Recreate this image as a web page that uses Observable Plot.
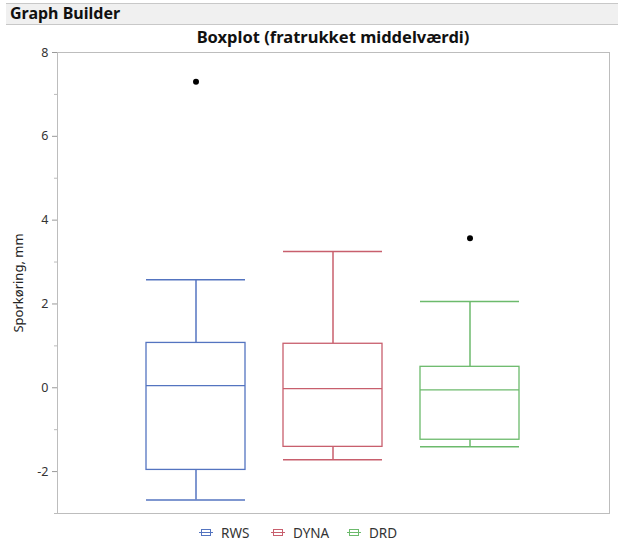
<!DOCTYPE html>
<html>
<head>
<meta charset="utf-8">
<script src="https://cdn.jsdelivr.net/npm/d3@7"></script>
<script src="https://cdn.jsdelivr.net/npm/@observablehq/plot@0.6"></script>
<style>
  html, body { margin: 0; padding: 0; background: #fff; }
  body { width: 618px; height: 545px; position: relative; overflow: hidden; font-family: "Noto Sans", "Open Sans", sans-serif; }
  #header { position: absolute; top: 3px; left: 6px; width: 612px; height: 20px; background: #f0f0f0;
            border-top: 1px solid #c8c8c8; border-bottom: 1px solid #c8c8c8; box-sizing: content-box; }
  #header span { position: absolute; left: 4px; top: -2px; font-weight: bold; font-size: 16px; color: #111; }
  #title { position: absolute; top: 27px; left: 57px; width: 552px; text-align: center; font-weight: bold; font-size: 16.5px; color: #111; line-height: 20px; }
  #plot { position: absolute; top: 40px; left: 0; }
  #legend { position: absolute; top: 524px; left: 0; width: 618px; font-size: 13.5px; color: #333; }
  .item { position: absolute; top: 0; display: flex; align-items: center; height: 18px; }
  .item svg { margin-right: 8px; }
</style>
</head>
<body>
<div id="header"><span>Graph Builder</span></div>
<div id="title">Boxplot (fratrukket middelværdi)</div>
<div id="plot"></div>
<div id="legend"></div>
<script>
// ---- data ----
const categories = ["RWS", "DYNA", "DRD"];
const whiskerLow  = [-2.68, -1.72, -1.41];
const quartile1   = [-1.96, -1.41, -1.24];
const median      = [ 0.05, -0.02, -0.05];
const quartile3   = [ 1.07,  1.05,  0.50];
const whiskerHigh = [ 2.58,  3.25,  2.06];
const outlierCategory = ["RWS", "DRD"];
const outlierValue    = [ 7.30,  3.57];
const yTicks = [-2, 0, 2, 4, 6, 8];
const yMinorTicks = [-3, -1, 1, 3, 5, 7];

// ---- styles ----
const colors = ["#5474c0", "#c85f6d", "#6cba6c"];

const stats = categories.map((c, i) => ({
  cat: c, lo: whiskerLow[i], q1: quartile1[i], med: median[i], q3: quartile3[i], hi: whiskerHigh[i]
}));
const outliers = outlierCategory.map((c, i) => ({cat: c, v: outlierValue[i]}));

const colorScale = {domain: categories, range: colors};

const chart = Plot.plot({
  width: 618,
  height: 485,
  marginLeft: 57,
  marginRight: 9,
  marginTop: 12,
  marginBottom: 12,
  style: {fontFamily: "'Noto Sans', sans-serif", fontSize: "12.5px", color: "#333", background: "transparent"},
  x: {domain: categories, paddingInner: 0.275, paddingOuter: 0.645, axis: null},
  y: {domain: [-3, 8], ticks: yTicks, label: null},
  color: colorScale,
  marks: [
    Plot.frame({stroke: "#bdbdbd"}),
    Plot.axisY({ticks: yTicks, tickSize: 5, tickPadding: 4, stroke: "#999", fill: "#333", label: null, tickFormat: d => String(d)}),
    Plot.axisY({ticks: yMinorTicks, tickSize: 3, stroke: "#bbb", tickFormat: () => "", label: null}),
    Plot.text(["Sporkøring, mm"], {frameAnchor: "left", textAnchor: "middle", dx: -39, rotate: -90, fontSize: 13, fill: "#222"}),
    Plot.ruleX(stats, {x: "cat", y1: "q3", y2: "hi", stroke: "cat", strokeWidth: 1.5}),
    Plot.ruleX(stats, {x: "cat", y1: "lo", y2: "q1", stroke: "cat", strokeWidth: 1.5}),
    Plot.tickY(stats, {x: "cat", y: "hi", stroke: "cat", strokeWidth: 1.5}),
    Plot.tickY(stats, {x: "cat", y: "lo", stroke: "cat", strokeWidth: 1.5}),
    Plot.barY(stats, {x: "cat", y1: "q1", y2: "q3", fill: "white", stroke: "cat", strokeWidth: 1.3}),
    Plot.tickY(stats, {x: "cat", y: "med", stroke: "cat", strokeWidth: 1.3}),
    Plot.dot(outliers, {x: "cat", y: "v", r: 3, fill: "black", stroke: "none"})
  ]
});
document.getElementById("plot").appendChild(chart);

// ---- legend ----
const legendX = [199, 271, 347];
const legend = document.getElementById("legend");
categories.forEach((c, i) => {
  const item = document.createElement("div");
  item.className = "item";
  item.style.left = legendX[i] + "px";
  item.innerHTML = `<svg width="14" height="10"><rect x="2.5" y="1.5" width="9" height="6" fill="white" stroke="${colors[i]}" stroke-width="1"/><line x1="0" x2="14" y1="4.5" y2="4.5" stroke="${colors[i]}" stroke-width="1"/></svg><span>${c}</span>`;
  legend.appendChild(item);
});
</script>
</body>
</html>
